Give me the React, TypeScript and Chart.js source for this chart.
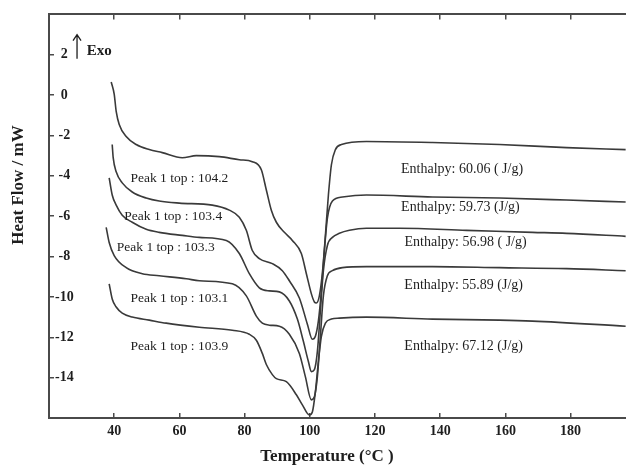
import React, { useEffect, useRef } from "react";
import { Chart, registerables } from "chart.js";

Chart.register(...registerables);

const xTicks = [40, 60, 80, 100, 120, 140, 160, 180];
const yTicks = [-14, -12, -10, -8, -6, -4, -2, 0, 2];

const curve1X = [39.08, 40.0, 40.61, 41.54, 43.68, 46.75, 50.75, 54.74, 60.88, 65.18, 72.24, 78.38, 82.37, 85.13, 86.67, 88.2, 89.74, 92.2, 94.65, 97.41, 98.95, 100.49, 101.41, 102.02, 102.94, 103.87, 104.79, 105.71, 106.63, 107.86, 109.7, 117.37, 137.64, 158.21, 178.78, 196.89];
const curve1Y = [0.65, 0.05, -0.8, -1.45, -2.05, -2.45, -2.7, -2.85, -3.1, -3.0, -3.05, -3.2, -3.3, -3.7, -4.7, -5.7, -6.3, -6.8, -7.2, -7.85, -8.85, -9.85, -10.25, -10.3, -9.95, -8.8, -6.95, -4.95, -3.45, -2.7, -2.45, -2.3, -2.35, -2.45, -2.6, -2.7];

const curve2X = [39.39, 39.69, 40.61, 42.46, 45.53, 49.82, 53.8, 59.96, 70.09, 75.31, 78.38, 80.53, 82.37, 84.52, 88.51, 91.58, 93.73, 96.8, 99.26, 100.79, 101.72, 102.63, 103.56, 104.48, 105.4, 106.94, 110.01, 117.37, 137.64, 158.21, 178.78, 196.89];
const curve2Y = [-2.45, -3.1, -3.8, -4.35, -4.8, -5.1, -5.25, -5.35, -5.45, -5.7, -6.05, -6.7, -7.7, -8.1, -8.35, -8.7, -9.2, -10.05, -11.35, -12.1, -11.95, -11.2, -9.7, -7.7, -6.1, -5.25, -5.05, -4.95, -5.05, -5.1, -5.2, -5.3];

const curve3X = [38.46, 39.39, 40.61, 42.46, 45.53, 49.82, 53.8, 60.88, 66.1, 74.39, 78.38, 81.45, 84.52, 87.59, 90.66, 93.73, 96.19, 98.03, 99.57, 100.49, 101.41, 102.33, 103.25, 104.17, 105.4, 106.94, 109.08, 112.15, 117.37, 127.5, 148.08, 168.34, 178.78, 196.89];
const curve3Y = [-4.1, -4.95, -5.45, -5.95, -6.3, -6.65, -6.8, -6.95, -7.05, -7.2, -7.85, -8.85, -9.55, -9.7, -9.75, -10.2, -11.1, -12.2, -13.2, -13.7, -13.6, -12.7, -10.7, -8.7, -7.45, -7.05, -6.85, -6.7, -6.6, -6.6, -6.7, -6.8, -6.85, -7.0];

const curve4X = [37.54, 38.46, 40.0, 43.68, 48.6, 53.8, 62.11, 66.1, 76.23, 80.53, 83.6, 85.44, 87.59, 90.66, 93.73, 96.8, 98.64, 100.49, 101.41, 102.33, 103.25, 104.17, 105.4, 106.94, 110.01, 117.37, 137.64, 158.21, 178.78, 196.89];
const curve4Y = [-6.55, -7.3, -7.95, -8.55, -8.85, -8.95, -9.1, -9.2, -9.35, -9.95, -10.95, -11.3, -11.4, -11.45, -11.85, -12.8, -13.95, -15.1, -14.95, -13.95, -11.95, -9.95, -8.95, -8.7, -8.55, -8.5, -8.5, -8.55, -8.6, -8.7];

const curve5X = [38.46, 39.39, 40.61, 42.46, 45.53, 50.75, 55.97, 66.1, 76.23, 81.45, 83.6, 85.44, 86.67, 88.51, 89.74, 92.81, 95.88, 97.72, 99.87, 100.79, 101.72, 102.63, 103.56, 104.79, 106.63, 109.08, 117.37, 137.64, 158.21, 168.34, 196.89];
const curve5Y = [-9.35, -10.1, -10.5, -10.8, -11.0, -11.15, -11.3, -11.5, -11.65, -11.85, -12.15, -12.8, -13.35, -13.85, -14.05, -14.2, -14.85, -15.35, -15.85, -15.7, -14.7, -13.2, -11.95, -11.3, -11.1, -11.05, -11.0, -11.1, -11.15, -11.2, -11.45];

const peakLabels = ["Peak 1 top : 104.2", "Peak 1 top : 103.4", "Peak 1 top : 103.3", "Peak 1 top : 103.1", "Peak 1 top : 103.9"];
const peakLabelX = [60.0, 58.1, 55.8, 60.0, 60.0];
const peakLabelY = [-4.15, -6.0, -7.55, -10.1, -12.45];

const enthalpyLabels = ["Enthalpy: 60.06 ( J/g)", "Enthalpy: 59.73 (J/g)", "Enthalpy: 56.98 ( J/g)", "Enthalpy: 55.89 (J/g)", "Enthalpy: 67.12 (J/g)"];
const enthalpyX = [146.7, 146.2, 147.8, 147.2, 147.2];
const enthalpyY = [-3.7, -5.55, -7.3, -9.45, -12.45];

const exoText = "Exo";
const exoArrowX = 28.6;
const exoArrowY = [1.8, 3.0];
const exoTextX = 31.6;
const exoTextY = 2.2;

const xTitle = "Temperature (°C )";
const yTitle = "Heat Flow / mW";

const curvesX = [curve1X, curve2X, curve3X, curve4X, curve5X];
const curvesY = [curve1Y, curve2Y, curve3Y, curve4Y, curve5Y];

const SERIF = '"Liberation Serif", "Times New Roman", serif';
const AXIS_COLOR = "#4a4a4a";
const TEXT_COLOR = "#1e1e1e";

const annotationPlugin = {
  id: "annotations",
  afterDatasetsDraw(chart: any) {
    const { ctx, scales } = chart;
    const x = scales.x;
    const y = scales.y;
    ctx.save();
    ctx.fillStyle = TEXT_COLOR;
    ctx.textAlign = "center";
    ctx.textBaseline = "middle";
    ctx.font = `13.5px ${SERIF}`;
    peakLabels.forEach((t, i) => {
      ctx.fillText(t, x.getPixelForValue(peakLabelX[i]), y.getPixelForValue(peakLabelY[i]));
    });
    ctx.font = `14px ${SERIF}`;
    enthalpyLabels.forEach((t, i) => {
      ctx.fillText(t, x.getPixelForValue(enthalpyX[i]), y.getPixelForValue(enthalpyY[i]));
    });

    // Exo arrow
    const ax = x.getPixelForValue(exoArrowX);
    const ay0 = y.getPixelForValue(exoArrowY[0]);
    const ay1 = y.getPixelForValue(exoArrowY[1]);
    ctx.strokeStyle = TEXT_COLOR;
    ctx.lineWidth = 1.3;
    ctx.beginPath();
    ctx.moveTo(ax, ay0);
    ctx.lineTo(ax, ay1);
    ctx.moveTo(ax - 4, ay1 + 6);
    ctx.lineTo(ax, ay1);
    ctx.lineTo(ax + 4, ay1 + 6);
    ctx.stroke();
    ctx.font = `bold 15px ${SERIF}`;
    ctx.textAlign = "left";
    ctx.fillText(exoText, x.getPixelForValue(exoTextX), y.getPixelForValue(exoTextY));

    // axis titles
    ctx.font = `bold 17px ${SERIF}`;
    ctx.textAlign = "center";
    ctx.fillText(xTitle, 327, 457);
    ctx.translate(19, 185);
    ctx.rotate(-Math.PI / 2);
    ctx.fillText(yTitle, 0, 0);
    ctx.restore();
  },
};

export default function App() {
  const ref = useRef<HTMLCanvasElement | null>(null);

  useEffect(() => {
    if (!ref.current) return;
    const tickFont = { family: SERIF, size: 14, weight: "bold" as const };
    const chart = new Chart(ref.current, {
      type: "line",
      data: {
        datasets: curvesX.map((xs, k) => ({
          label: `curve ${k + 1}`,
          data: xs.map((v, i) => ({ x: v, y: curvesY[k][i] })),
          borderColor: "#3a3a3a",
          borderWidth: 1.6,
          pointRadius: 0,
          fill: false,
          cubicInterpolationMode: "monotone" as const,
        })),
      },
      options: {
        animation: false,
        responsive: false,
        maintainAspectRatio: false,
        devicePixelRatio: 1,
        layout: { padding: 0 },
        plugins: {
          legend: { display: false },
          tooltip: { enabled: false },
        },
        scales: {
          x: {
            type: "linear",
            position: "bottom",
            min: 20,
            max: 197,
            afterBuildTicks: (s: any) => {
              s.ticks = xTicks.map((v) => ({ value: v }));
            },
            afterFit: (s: any) => {
              s.height = 49;
            },
            ticks: {
              font: tickFont,
              color: TEXT_COLOR,
              padding: 10,
              maxRotation: 0,
              autoSkip: false,
            },
            grid: {
              drawOnChartArea: false,
              drawTicks: true,
              tickLength: -5,
              color: AXIS_COLOR,
              lineWidth: 1.5,
            },
            border: { display: true, color: AXIS_COLOR, width: 2 },
          },
          xTop: {
            type: "linear",
            position: "top",
            min: 20,
            max: 197,
            afterBuildTicks: (s: any) => {
              s.ticks = xTicks.map((v) => ({ value: v }));
            },
            afterFit: (s: any) => {
              s.height = 14;
            },
            ticks: { display: false },
            grid: {
              drawOnChartArea: false,
              drawTicks: true,
              tickLength: -5,
              color: AXIS_COLOR,
              lineWidth: 1.5,
            },
            border: { display: true, color: AXIS_COLOR, width: 2 },
          },
          y: {
            type: "linear",
            position: "left",
            min: -16,
            max: 4,
            afterBuildTicks: (s: any) => {
              s.ticks = yTicks.map((v) => ({ value: v }));
            },
            afterFit: (s: any) => {
              s.width = 49;
            },
            ticks: {
              font: tickFont,
              color: TEXT_COLOR,
              mirror: true,
              crossAlign: "center",
              padding: 6,
              autoSkip: false,
            },
            grid: {
              drawOnChartArea: false,
              drawTicks: true,
              tickLength: -5,
              color: AXIS_COLOR,
              lineWidth: 1.5,
            },
            border: { display: true, color: AXIS_COLOR, width: 2 },
          },
        },
      },
      plugins: [annotationPlugin],
    });
    return () => chart.destroy();
  }, []);

  return (
    <div style={{ position: "absolute", left: 0, top: 0, width: 626, height: 467, background: "#fff" }}>
      <canvas ref={ref} width={626} height={467} style={{ display: "block" }} />
    </div>
  );
}
